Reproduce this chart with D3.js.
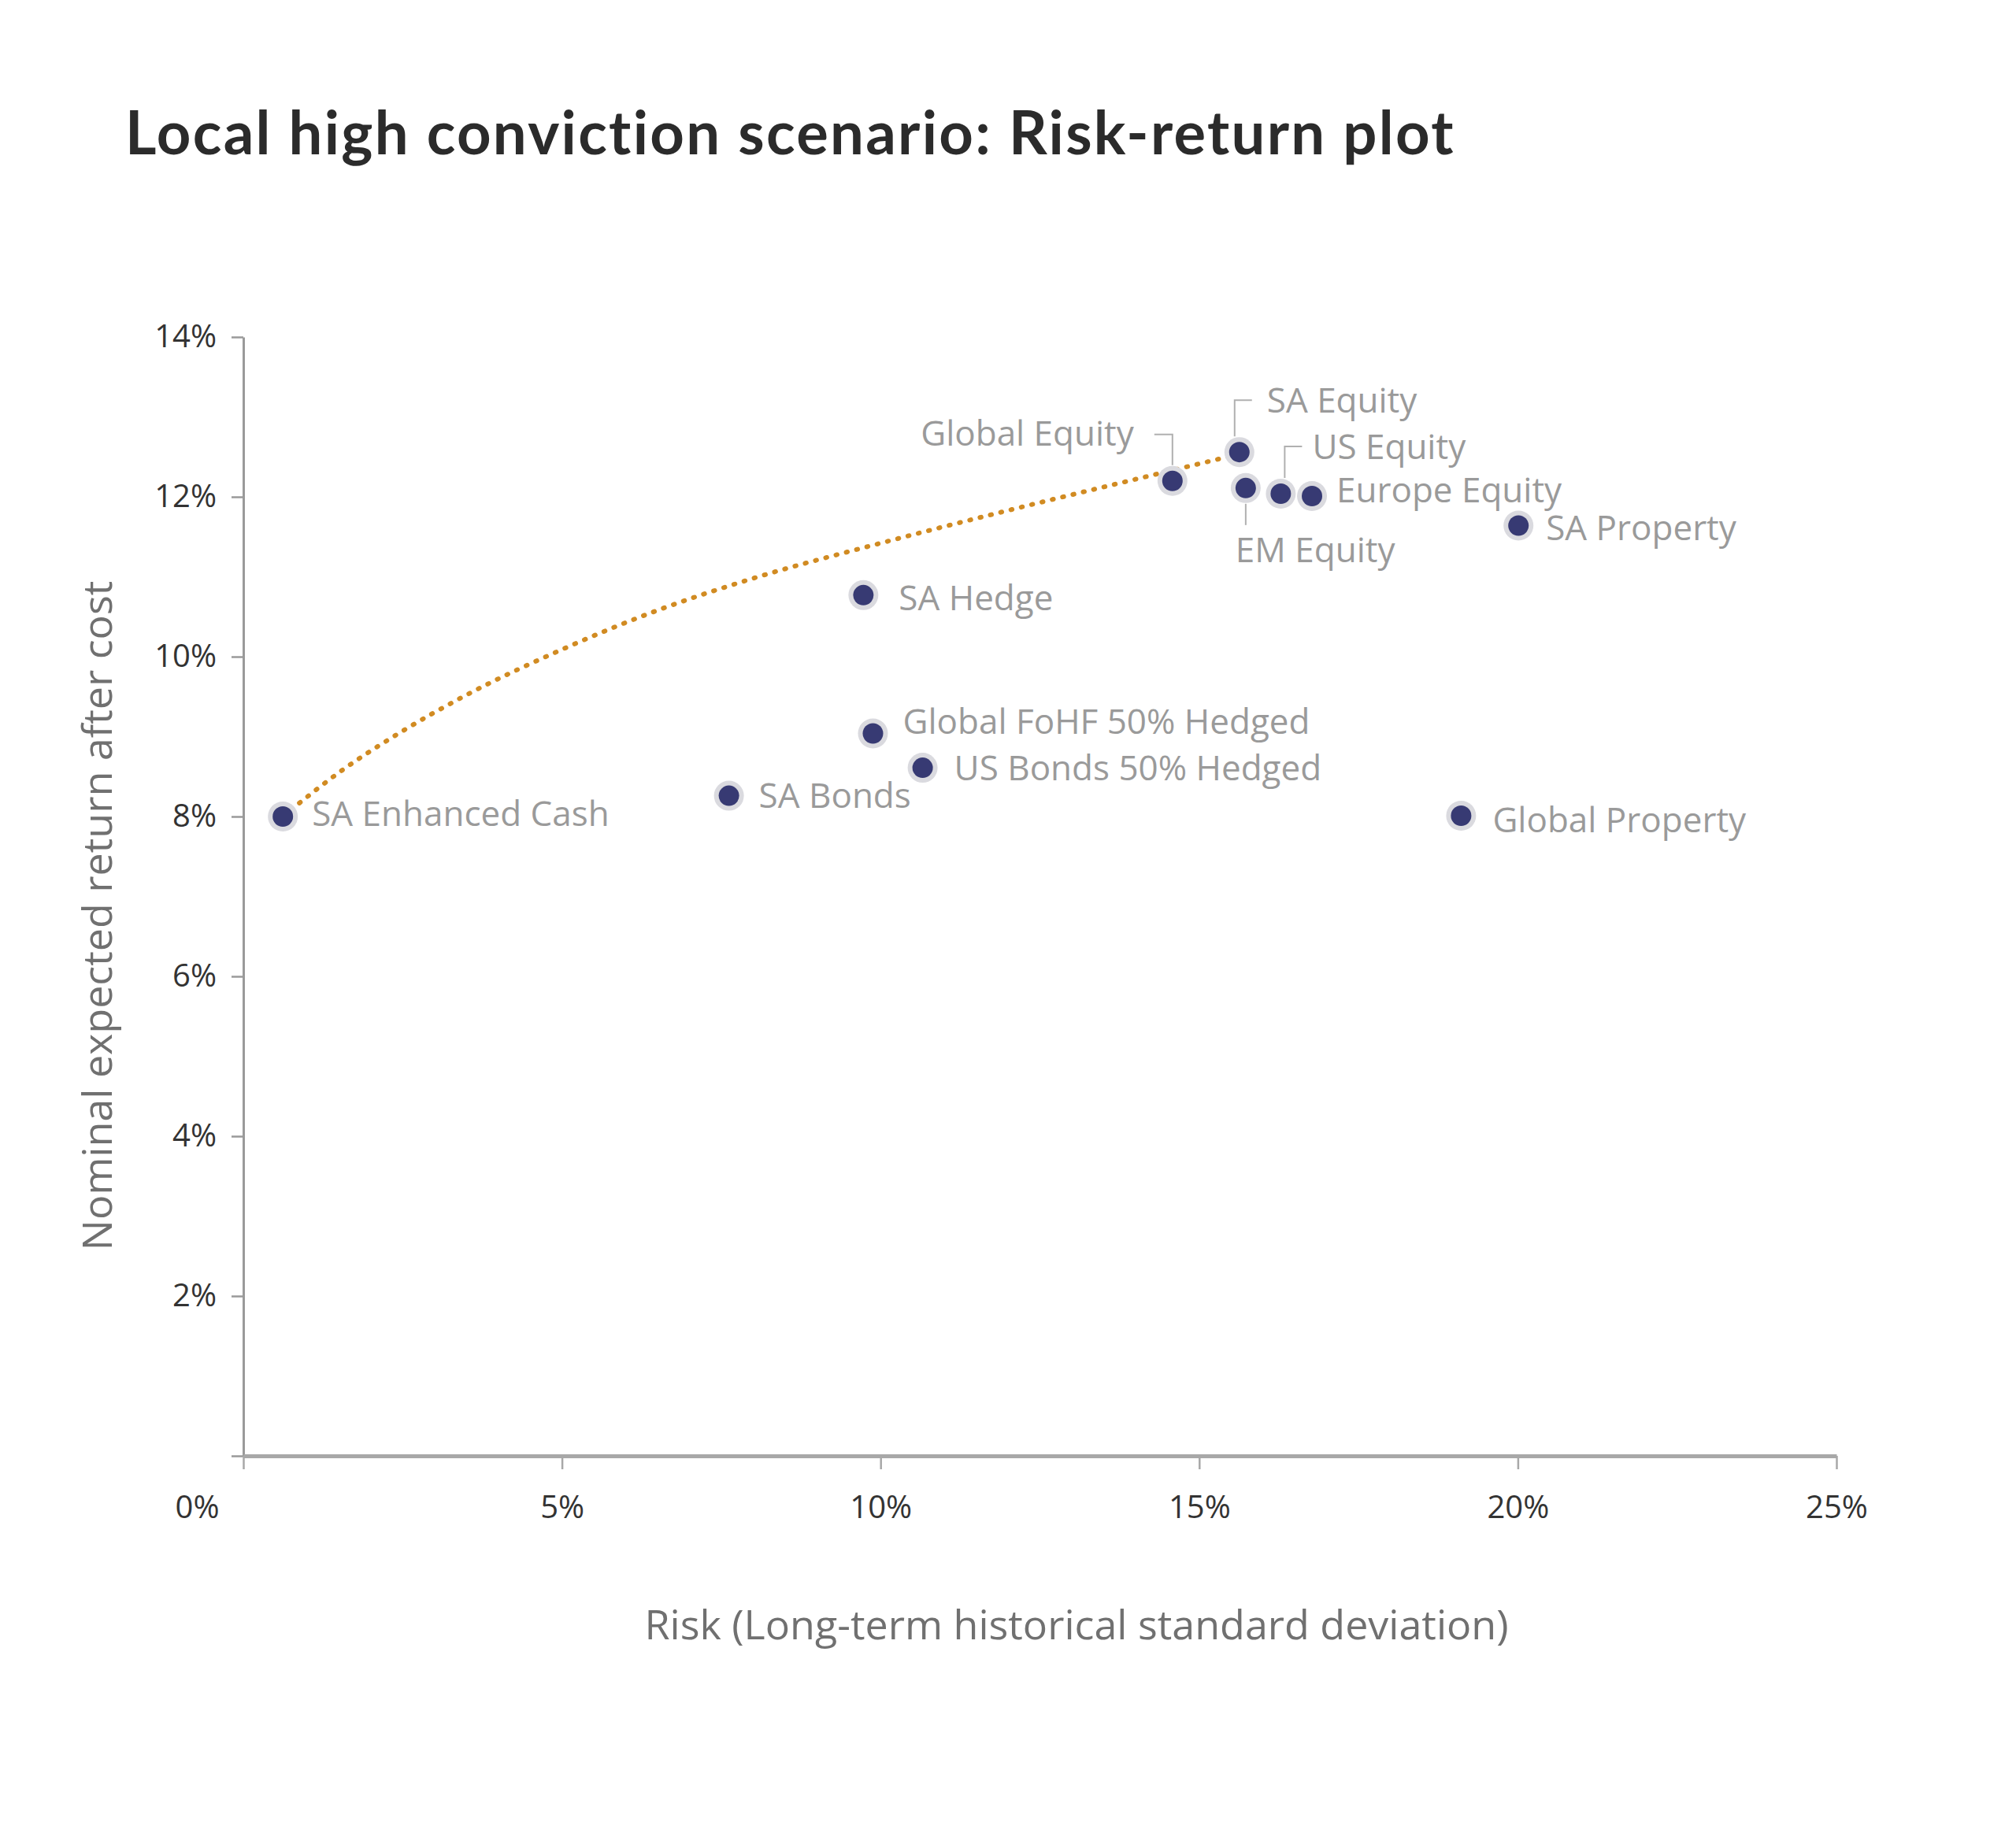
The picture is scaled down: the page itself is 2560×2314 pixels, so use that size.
<!DOCTYPE html>
<html>
<head>
<meta charset="utf-8">
<script src="https://cdn.jsdelivr.net/npm/d3@7"></script>
<style>
  body { margin: 0; background: #fff; }
  svg { display: block; }
</style>
</head>
<body>
<svg id="chart" width="2560" height="2314"></svg>
<script>
// asset classes (risk %, return %)
const assetNames = ["SA Enhanced Cash", "SA Bonds", "SA Hedge", "Global FoHF 50% Hedged",
    "US Bonds 50% Hedged", "Global Equity", "SA Equity", "EM Equity", "US Equity",
    "Europe Equity", "SA Property", "Global Property"];
const riskValues = [0.62, 7.62, 9.73, 9.88, 10.66, 14.58, 15.63, 15.73, 16.28, 16.77, 20.01, 19.11];
const returnValues = [8.0, 8.26, 10.77, 9.04, 8.61, 12.2, 12.56, 12.11, 12.04, 12.01, 11.64, 8.01];

// efficient frontier (dotted curve)
const frontierRisk = [0.62, 1.5, 2.5, 3.5, 5.0, 6.5, 8.0, 10.0, 12.0, 14.0, 15.6];
const frontierReturn = [8.0, 8.55, 9.07, 9.52, 10.09, 10.58, 10.98, 11.42, 11.83, 12.22, 12.53];

const xTicks = [0, 5, 10, 15, 20, 25];
const yTicks = [0, 2, 4, 6, 8, 10, 12, 14];

// label placement next to each marker (pixels, relative to the point)
const labelLayout = {
    "SA Enhanced Cash":       { dx: 37,  dy: -4,  anchor: "start" },
    "SA Bonds":               { dx: 38,  dy: 0,   anchor: "start" },
    "SA Hedge":               { dx: 45,  dy: 3,   anchor: "start" },
    "Global FoHF 50% Hedged": { dx: 38,  dy: -15, anchor: "start" },
    "US Bonds 50% Hedged":    { dx: 40,  dy: 0,   anchor: "start" },
    "Global Equity":          { dx: -49, dy: -61, anchor: "end", leader: [[-23, -59], [0, -59], [0, -20]] },
    "SA Equity":              { dx: 35,  dy: -66, anchor: "start", leader: [[-6, -20], [-6, -66], [16, -66]] },
    "EM Equity":              { dx: -13, dy: 78,  anchor: "start", leader: [[0, 20], [0, 47]] },
    "US Equity":              { dx: 40,  dy: -60, anchor: "start", leader: [[5, -20], [5, -60], [27, -60]] },
    "Europe Equity":          { dx: 31,  dy: -8,  anchor: "start" },
    "SA Property":            { dx: 35,  dy: 3,   anchor: "start" },
    "Global Property":        { dx: 40,  dy: 5,   anchor: "start" }
};

let svg = d3.select('#chart');
let font = "'Open Sans', 'DejaVu Sans', sans-serif";

let x = d3.scaleLinear().domain([0, 25]).range([309, 2332]);
let y = d3.scaleLinear().domain([0, 14]).range([1849, 428]);

// title
svg.append("text")
    .attr("x", 159)
    .attr("y", 196)
    .attr("font-family", "Lato, 'Open Sans', sans-serif")
    .attr("font-weight", 700)
    .attr("font-size", 76)
    .attr("letter-spacing", 2.3)
    .attr("fill", "#2b2b2b")
    .text("Local high conviction scenario: Risk-return plot");

// y axis
let yAxis = svg.append("g")
    .attr("transform", `translate(${x(0)},0)`)
    .call(d3.axisLeft(y)
        .tickValues(yTicks)
        .tickSize(15)
        .tickSizeOuter(0)
        .tickPadding(19)
        .tickFormat(d => d === 0 ? "" : d + "%"));
yAxis.select(".domain").attr("stroke", "#9a9a9a").attr("stroke-width", 3);
yAxis.selectAll(".tick line").attr("stroke", "#9a9a9a").attr("stroke-width", 2.5);
yAxis.selectAll(".tick text")
    .attr("font-family", font)
    .attr("font-size", 40)
    .attr("fill", "#333");

// x axis
let xAxis = svg.append("g")
    .attr("transform", `translate(0,${y(0)})`)
    .call(d3.axisBottom(x)
        .tickValues(xTicks)
        .tickSize(17)
        .tickSizeOuter(0)
        .tickPadding(34)
        .tickFormat(d => d + "%"));
xAxis.select(".domain").attr("stroke", "#a8a8a8").attr("stroke-width", 5);
xAxis.selectAll(".tick line").attr("stroke", "#a8a8a8").attr("stroke-width", 2.5);
xAxis.selectAll(".tick text")
    .attr("font-family", font)
    .attr("font-size", 40)
    .attr("fill", "#333")
    .attr("dx", d => d === 0 ? -59 : 0);

// axis titles
svg.append("text")
    .attr("x", 1367)
    .attr("y", 2082)
    .attr("text-anchor", "middle")
    .attr("font-family", font)
    .attr("font-size", 52)
    .attr("fill", "#707070")
    .text("Risk (Long-term historical standard deviation)");

svg.append("text")
    .attr("transform", "translate(142,1163) rotate(-90)")
    .attr("text-anchor", "middle")
    .attr("font-family", font)
    .attr("font-size", 52)
    .attr("fill", "#707070")
    .text("Nominal expected return after cost");

// frontier
let frontier = frontierRisk.map((r, i) => [r, frontierReturn[i]]);
let line = d3.line()
    .x(d => x(d[0]))
    .y(d => y(d[1]))
    .curve(d3.curveMonotoneX);
svg.append("path")
    .datum(frontier)
    .attr("d", line)
    .attr("fill", "none")
    .attr("stroke", "#d18b22")
    .attr("stroke-width", 6)
    .attr("stroke-linecap", "round")
    .attr("stroke-dasharray", "1.5 12");

let assets = assetNames.map((name, i) => ({ name: name, risk: riskValues[i], ret: returnValues[i] }));

// leader lines
let leaderLine = d3.line();
svg.append("g")
    .selectAll("path")
    .data(assets.filter(d => labelLayout[d.name].leader))
    .join("path")
        .attr("d", d => leaderLine(labelLayout[d.name].leader.map(p => [x(d.risk) + p[0], y(d.ret) + p[1]])))
        .attr("fill", "none")
        .attr("stroke", "#b0b0b0")
        .attr("stroke-width", 2);

// markers
let marks = svg.append("g")
    .selectAll("g")
    .data(assets)
    .join("g")
        .attr("transform", d => `translate(${x(d.risk)},${y(d.ret)})`);
marks.append("circle").attr("r", 19).attr("fill", "#dadadf");
marks.append("circle").attr("r", 13).attr("fill", "#373a73");

// labels
svg.append("g")
    .selectAll("text")
    .data(assets)
    .join("text")
        .attr("x", d => x(d.risk) + labelLayout[d.name].dx)
        .attr("y", d => y(d.ret) + labelLayout[d.name].dy)
        .attr("dy", "0.36em")
        .attr("text-anchor", d => labelLayout[d.name].anchor)
        .attr("font-family", font)
        .attr("font-size", 44)
        .attr("fill", "#9a9a9a")
        .text(d => d.name);
</script>
</body>
</html>
